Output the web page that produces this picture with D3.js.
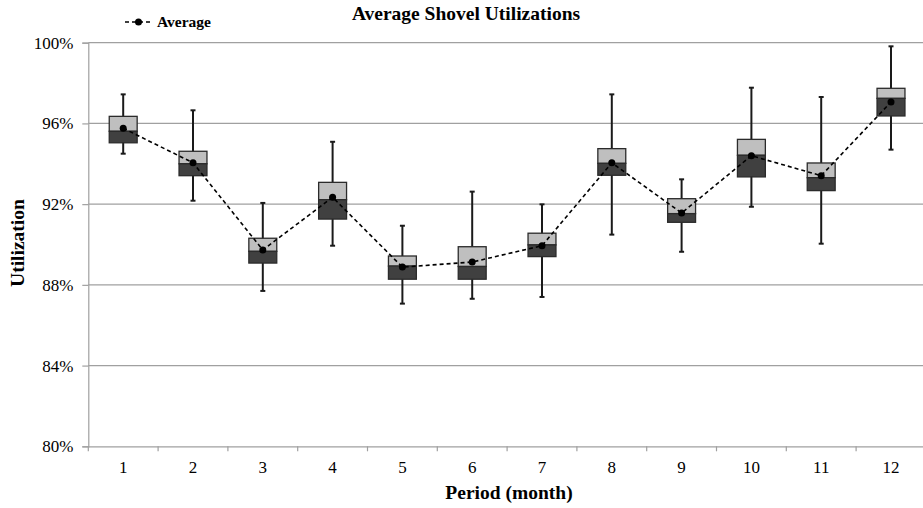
<!DOCTYPE html>
<html>
<head>
<meta charset="utf-8">
<script src="https://cdn.jsdelivr.net/npm/d3@7"></script>
<style>
  html, body { margin: 0; padding: 0; background: #fff; }
  svg { display: block; }
  svg text { font-family: 'Liberation Serif', 'Times New Roman', Times, 'DejaVu Serif', serif !important; }
</style>
</head>
<body>
<div id="chart"></div>
<script>
const periods = ["1","2","3","4","5","6","7","8","9","10","11","12"];
const whiskerHigh = [97.44, 96.65, 92.06, 95.09, 90.93, 92.62, 91.99, 97.44, 93.23, 97.77, 97.31, 99.82];
const q3          = [96.35, 94.62, 90.31, 93.08, 89.43, 89.89, 90.56, 94.75, 92.27, 95.21, 94.04, 97.74];
const median      = [95.61, 94.00, 89.66, 92.22, 88.93, 88.91, 89.98, 94.02, 91.53, 94.42, 93.31, 97.24];
const q1          = [95.04, 93.41, 89.08, 91.26, 88.28, 88.28, 89.40, 93.43, 91.10, 93.35, 92.67, 96.37];
const whiskerLow  = [94.50, 92.17, 87.70, 89.94, 87.07, 87.31, 87.40, 90.49, 89.64, 91.87, 90.04, 94.70];
const average     = [95.76, 94.05, 89.73, 92.34, 88.88, 89.13, 89.94, 94.05, 91.56, 94.40, 93.41, 97.06];
const yTicks = [80, 84, 88, 92, 96, 100];

const W = 923, H = 508;
const plotL = 88.3, plotR = 925.9, plotT = 42.7, plotB = 446.3;

const svg = d3.select("#chart").append("svg").attr("width", W).attr("height", H);

const x = d3.scaleBand().domain(periods).range([plotL, plotR]).paddingInner(0).paddingOuter(0);
const y = d3.scaleLinear().domain([80, 100]).range([plotB, plotT]);

const data = periods.map((p, i) => ({
  p, hi: whiskerHigh[i], q3: q3[i], med: median[i], q1: q1[i], lo: whiskerLow[i], avg: average[i]
}));

// gridlines
svg.append("g").selectAll("line").data(yTicks.filter(t => t > 80)).join("line")
  .attr("x1", plotL).attr("x2", plotR)
  .attr("y1", d => y(d)).attr("y2", d => y(d))
  .attr("stroke", "#a0a0a0").attr("stroke-width", 1.2);

// y axis
const yAxis = svg.append("g").attr("transform", `translate(${plotL},0)`)
  .call(d3.axisLeft(y).tickValues(yTicks).tickSize(6).tickPadding(9).tickFormat(d => d + "%"));
yAxis.attr("font-family", null);
yAxis.select(".domain").attr("stroke", "#a0a0a0").attr("stroke-width", 1.2);
yAxis.selectAll(".tick line").attr("stroke", "#a0a0a0").attr("stroke-width", 1.2);
yAxis.selectAll("text").attr("font-size", 17).attr("fill", "#000");

// x axis
const xAxis = svg.append("g").attr("transform", `translate(0,${plotB})`)
  .call(d3.axisBottom(x).tickSize(0).tickPadding(15));
xAxis.attr("font-family", null);
xAxis.select(".domain").attr("stroke", "#a0a0a0").attr("stroke-width", 1.2);
xAxis.selectAll("text").attr("font-size", 17).attr("fill", "#000");
// band boundary tick marks
const bounds = periods.map(p => x(p)).concat([x(periods[periods.length - 1]) + x.bandwidth()]);
svg.append("g").selectAll("line").data(bounds).join("line")
  .attr("x1", d => d).attr("x2", d => d)
  .attr("y1", plotB).attr("y2", plotB + 5)
  .attr("stroke", "#a0a0a0").attr("stroke-width", 1.2);

const bw = x.bandwidth() * 0.4;
const cx = d => x(d.p) + x.bandwidth() / 2;

// whiskers
const wg = svg.append("g");
wg.append("g").selectAll("line").data(data).join("line")
  .attr("x1", cx).attr("x2", cx)
  .attr("y1", d => y(d.hi)).attr("y2", d => y(d.lo))
  .attr("stroke", "#1a1a1a").attr("stroke-width", 2);
wg.append("g").selectAll("line").data(data).join("line")
  .attr("x1", d => cx(d) - 2.5).attr("x2", d => cx(d) + 2.5)
  .attr("y1", d => y(d.hi)).attr("y2", d => y(d.hi))
  .attr("stroke", "#1a1a1a").attr("stroke-width", 2);
wg.append("g").selectAll("line").data(data).join("line")
  .attr("x1", d => cx(d) - 2.5).attr("x2", d => cx(d) + 2.5)
  .attr("y1", d => y(d.lo)).attr("y2", d => y(d.lo))
  .attr("stroke", "#1a1a1a").attr("stroke-width", 2);

// boxes: upper (median->q3) light, lower (q1->median) dark
const bg = svg.append("g");
bg.append("g").selectAll("rect").data(data).join("rect")
  .attr("x", d => cx(d) - bw / 2).attr("width", bw)
  .attr("y", d => y(d.q3)).attr("height", d => y(d.med) - y(d.q3))
  .attr("fill", "#bfbfbf").attr("stroke", "#2b2b2b").attr("stroke-width", 1.3);
bg.append("g").selectAll("rect").data(data).join("rect")
  .attr("x", d => cx(d) - bw / 2).attr("width", bw)
  .attr("y", d => y(d.med)).attr("height", d => y(d.q1) - y(d.med))
  .attr("fill", "#404040").attr("stroke", "#2b2b2b").attr("stroke-width", 1.3);

// average line
const line = d3.line().x(cx).y(d => y(d.avg));
svg.append("path").datum(data).attr("d", line)
  .attr("fill", "none").attr("stroke", "#000").attr("stroke-width", 1.6)
  .attr("stroke-dasharray", "4,3");
svg.append("g").selectAll("circle").data(data).join("circle")
  .attr("cx", cx).attr("cy", d => y(d.avg)).attr("r", 3.5).attr("fill", "#000");

// legend
const lg = svg.append("g");
lg.append("line").attr("x1", 125).attr("x2", 153).attr("y1", 22).attr("y2", 22)
  .attr("stroke", "#000").attr("stroke-width", 1.6).attr("stroke-dasharray", "4,3");
lg.append("circle").attr("cx", 138.5).attr("cy", 22).attr("r", 3.5).attr("fill", "#000");
lg.append("text").attr("x", 157).attr("y", 27).attr("font-size", 15.5).attr("font-weight", "bold")
  .text("Average");

// title
svg.append("text").attr("x", 466).attr("y", 20).attr("text-anchor", "middle")
  .attr("font-size", 19.5).attr("font-weight", "bold").text("Average Shovel Utilizations");

// axis titles
svg.append("text").attr("x", 509).attr("y", 499).attr("text-anchor", "middle")
  .attr("font-size", 19.5).attr("font-weight", "bold").text("Period (month)");
svg.append("text").attr("transform", "translate(24,243) rotate(-90)").attr("text-anchor", "middle")
  .attr("font-size", 19.5).attr("font-weight", "bold").text("Utilization");
</script>
</body>
</html>
